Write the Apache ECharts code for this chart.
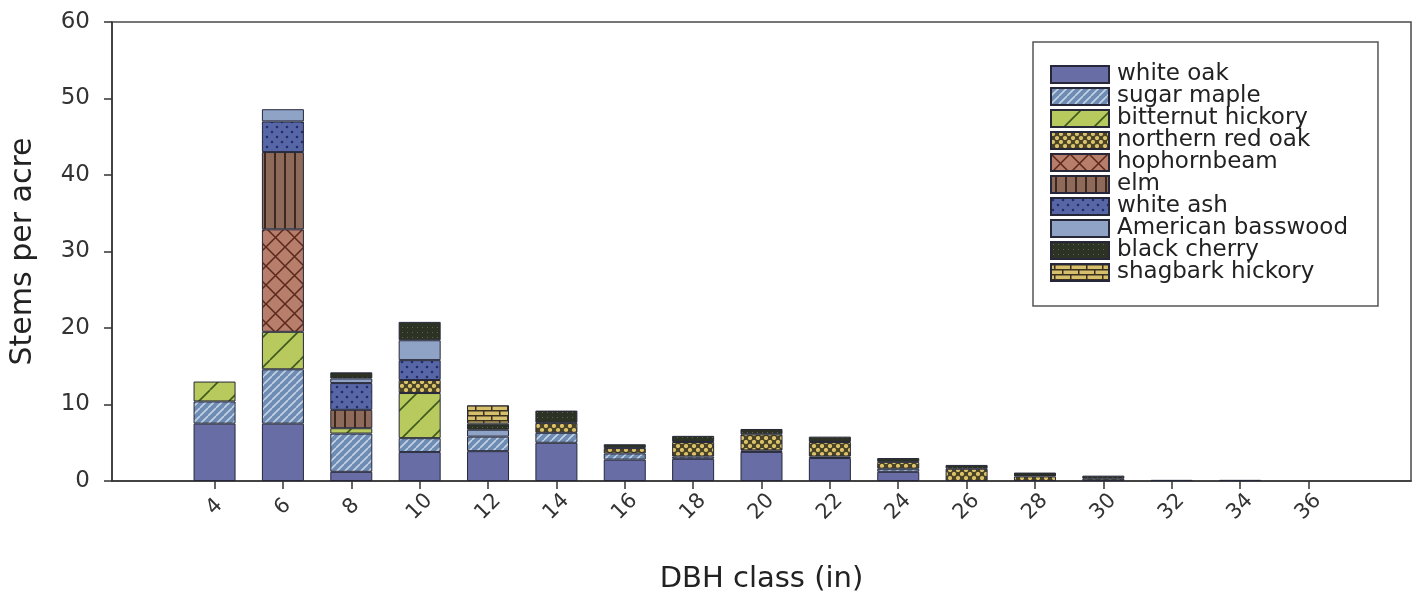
<!DOCTYPE html>
<html>
<head>
<meta charset="utf-8">
<script src="https://cdn.jsdelivr.net/npm/echarts@6/dist/echarts.min.js"></script>
<style>
  html, body { margin: 0; padding: 0; background: #fff; }
  #chart { width: 1417px; height: 593px; }
</style>
</head>
<body>
<div id="chart"></div>
<script>
// DBH classes (inches) and stems per acre for each species
const dbhClasses = [4, 6, 8, 10, 12, 14, 16, 18, 20, 22, 24, 26, 28, 30, 32, 34, 36];
const whiteOak    = [7.5, 7.5, 1.2, 3.8, 3.9, 5.0, 2.8, 2.9, 3.8, 3.0, 1.2, 0, 0, 0, 0, 0, 0];
const sugarMaple  = [2.9, 7.1, 5.0, 1.8, 1.9, 1.3, 0.8, 0.3, 0.2, 0.2, 0.4, 0, 0, 0, 0, 0, 0];
const bitternut   = [2.6, 4.9, 0.7, 5.9, 0, 0, 0, 0, 0, 0, 0, 0, 0, 0, 0, 0, 0];
const redOak      = [0, 0, 0, 1.7, 0, 1.3, 0.7, 1.9, 2.1, 1.9, 0.9, 1.6, 0.6, 0.3, 0, 0, 0];
const hophornbeam = [0, 13.4, 0, 0, 0, 0, 0, 0, 0, 0, 0, 0, 0, 0, 0, 0, 0];
const elm         = [0, 10.1, 2.4, 0, 0, 0, 0, 0, 0, 0, 0, 0, 0, 0, 0, 0, 0];
const whiteAsh    = [0, 4.0, 3.5, 2.6, 0, 0, 0, 0, 0, 0, 0, 0, 0, 0, 0, 0, 0];
const basswood    = [0, 1.6, 0.6, 2.6, 0.9, 0, 0, 0, 0, 0, 0, 0, 0, 0, 0, 0, 0];
const blackCherry = [0, 0, 0.8, 2.4, 0.8, 1.6, 0.5, 0.8, 0.7, 0.7, 0.5, 0.5, 0.5, 0.4, 0.15, 0.15, 0];
const shagbark    = [0, 0, 0, 0, 2.4, 0, 0, 0, 0, 0, 0, 0, 0, 0, 0, 0, 0];

const speciesNames = ['white oak', 'sugar maple', 'bitternut hickory', 'northern red oak',
  'hophornbeam', 'elm', 'white ash', 'American basswood', 'black cherry', 'shagbark hickory'];
const speciesValues = [whiteOak, sugarMaple, bitternut, redOak, hophornbeam, elm,
  whiteAsh, basswood, blackCherry, shagbark];
const yTicks = { min: 0, max: 60, step: 10 };
// x axis runs in 1-inch steps from 1 to 39; only the DBH classes carry labels
const xRange = { from: 1, to: 39 };

const axisInches = [];
for (let v = xRange.from; v <= xRange.to; v++) axisInches.push(String(v));
const isClass = (label) => dbhClasses.indexOf(Number(label)) >= 0;

// ---- fill patterns -------------------------------------------------------
function pattern(w, h, bg, draw) {
  const c = document.createElement('canvas');
  c.width = w; c.height = h;
  const g = c.getContext('2d');
  g.fillStyle = bg; g.fillRect(0, 0, w, h);
  if (draw) draw(g, w, h);
  return { image: c, repeat: 'repeat' };
}
function diag(g, w, h, color, lw) {
  g.strokeStyle = color; g.lineWidth = lw;
  g.beginPath();
  for (let k = -1; k <= 1; k++) {
    g.moveTo(k * w, h); g.lineTo(k * w + w, 0);
  }
  g.stroke();
}
const fills = [
  '#686ea5',
  pattern(8, 8, '#6e8cb3', (g, w, h) => diag(g, w, h, '#c3d2e4', 1.6)),
  pattern(30, 30, '#b8c95e', (g, w, h) => diag(g, w, h, '#3f5a1c', 1.6)),
  pattern(8, 8, '#4a4426', (g) => {
    g.fillStyle = '#dcc26c';
    [[2, 2], [6, 6]].forEach(([x, y]) => { g.beginPath(); g.arc(x, y, 2.1, 0, Math.PI * 2); g.fill(); });
  }),
  pattern(19, 19, '#b77e6b', (g, w, h) => {
    g.strokeStyle = '#5b281c'; g.lineWidth = 1.5;
    g.beginPath();
    g.moveTo(0, 0); g.lineTo(w, h);
    g.moveTo(0, h); g.lineTo(w, 0);
    g.stroke();
  }),
  pattern(10, 10, '#8d6a5a', (g) => {
    g.fillStyle = '#3d2820'; g.fillRect(4, 0, 2, 10);
  }),
  pattern(10, 10, '#5666a6', (g) => {
    g.fillStyle = '#262c68';
    [[2, 2], [7, 7]].forEach(([x, y]) => { g.beginPath(); g.arc(x, y, 1.3, 0, Math.PI * 2); g.fill(); });
  }),
  '#8ea3c6',
  pattern(5, 5, '#2c3324', (g) => {
    g.fillStyle = '#5d6648'; g.fillRect(2, 2, 1, 1);
  }),
  pattern(16, 10, '#d6bf6c', (g) => {
    g.fillStyle = '#3a3020';
    g.fillRect(0, 0, 16, 1.5); g.fillRect(0, 5, 16, 1.5);
    g.fillRect(3, 0, 1.5, 5); g.fillRect(11, 5, 1.5, 5);
  })
];

const series = speciesNames.map((name, i) => {
  const values = axisInches.map((label) => {
    const j = dbhClasses.indexOf(Number(label));
    return j >= 0 && speciesValues[i][j] > 0 ? speciesValues[i][j] : null;
  });
  return {
    name: name,
    type: 'bar',
    stack: 'stems',
    barWidth: 42,
    itemStyle: { color: fills[i], borderColor: '#26283a', borderWidth: 1 },
    emphasis: { disabled: true },
    data: values
  };
});

const font = 'DejaVu Sans';
const chart = echarts.init(document.getElementById('chart'), null, { renderer: 'canvas' });
chart.setOption({
  backgroundColor: '#ffffff',
  animation: false,
  grid: {
    left: 112, top: 22, right: 6, bottom: 112,
    outerBoundsMode: 'none',
    containLabel: false,
    show: true, borderColor: '#4a4a4a', borderWidth: 1.5, backgroundColor: 'transparent'
  },
  legend: {
    orient: 'vertical',
    left: 1033, top: 42,
    padding: [21, 30, 22, 17],
    itemWidth: 58, itemHeight: 17, itemGap: -1,
    borderColor: '#555', borderWidth: 1.5,
    icon: 'rect',
    textStyle: { fontFamily: font, fontSize: 23, color: '#222', padding: [0, 0, 0, 3] },
    data: speciesNames
  },
  xAxis: {
    type: 'category',
    data: axisInches,
    boundaryGap: false,
    name: 'DBH class (in)',
    nameLocation: 'middle',
    nameGap: 84,
    nameTextStyle: { fontFamily: font, fontSize: 29, color: '#222' },
    axisLine: { lineStyle: { color: '#333', width: 1.5 } },
    axisTick: { show: true, length: 8, interval: (i, v) => isClass(v), lineStyle: { color: '#333', width: 1.5 } },
    axisLabel: {
      interval: (i, v) => isClass(v),
      rotate: 45, margin: 26,
      align: 'center', verticalAlign: 'middle',
      fontFamily: font, fontSize: 21, color: '#333'
    },
    splitLine: { show: false }
  },
  yAxis: {
    type: 'value',
    min: yTicks.min, max: yTicks.max, interval: yTicks.step,
    name: 'Stems per acre',
    nameLocation: 'middle',
    nameGap: 74,
    nameTextStyle: { fontFamily: font, fontSize: 30, color: '#222' },
    axisLine: { show: true, lineStyle: { color: '#333', width: 1.5 } },
    axisTick: { show: true, length: 8, lineStyle: { color: '#333', width: 1.5 } },
    axisLabel: { margin: 22, fontFamily: font, fontSize: 23, color: '#333' },
    splitLine: { show: false }
  },
  series: series
});
</script>
</body>
</html>
